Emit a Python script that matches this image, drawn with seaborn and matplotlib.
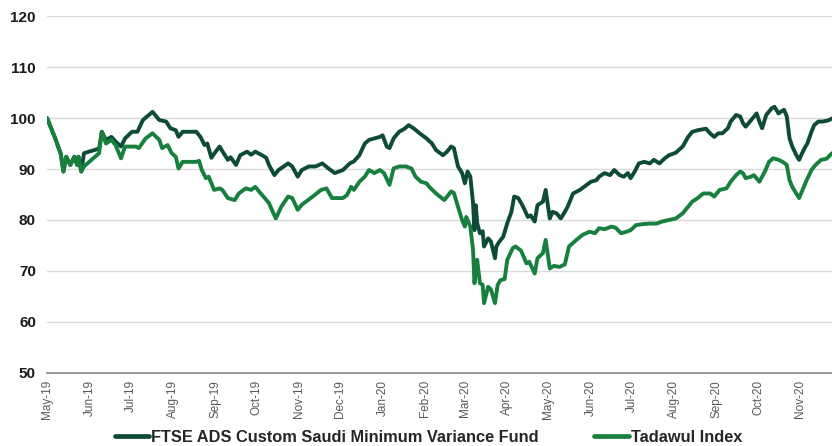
import matplotlib
matplotlib.use("Agg")
import matplotlib.pyplot as plt
import matplotlib.dates as mdates
import pandas as pd
import seaborn as sns

fund_dates = [
    "2019-05-01", "2019-05-07", "2019-05-11", "2019-05-13", "2019-05-15", "2019-05-18", "2019-05-21",
    "2019-05-23", "2019-05-24", "2019-05-26", "2019-05-28", "2019-06-08", "2019-06-10", "2019-06-13",
    "2019-06-17", "2019-06-20", "2019-06-24", "2019-06-27", "2019-07-02", "2019-07-06", "2019-07-10",
    "2019-07-17", "2019-07-22", "2019-07-27", "2019-07-30", "2019-08-03", "2019-08-05", "2019-08-08",
    "2019-08-18", "2019-08-21", "2019-08-24", "2019-08-26", "2019-08-29", "2019-08-31", "2019-09-04",
    "2019-09-06", "2019-09-10", "2019-09-12", "2019-09-16", "2019-09-19", "2019-09-24", "2019-09-27",
    "2019-09-30", "2019-10-05", "2019-10-08", "2019-10-10", "2019-10-14", "2019-10-17", "2019-10-24",
    "2019-10-27", "2019-10-31", "2019-11-03", "2019-11-08", "2019-11-13", "2019-11-18", "2019-11-22",
    "2019-11-27", "2019-12-03", "2019-12-08", "2019-12-11", "2019-12-15", "2019-12-19", "2019-12-22",
    "2019-12-26", "2019-12-30", "2020-01-01", "2020-01-04", "2020-01-06", "2020-01-09", "2020-01-13",
    "2020-01-17", "2020-01-20", "2020-01-24", "2020-01-28", "2020-02-02", "2020-02-06", "2020-02-09",
    "2020-02-14", "2020-02-17", "2020-02-20", "2020-02-22", "2020-02-25", "2020-02-28", "2020-03-01",
    "2020-03-03", "2020-03-05", "2020-03-07", "2020-03-08", "2020-03-09", "2020-03-10", "2020-03-12",
    "2020-03-14", "2020-03-15", "2020-03-18", "2020-03-20", "2020-03-23", "2020-03-24", "2020-03-26",
    "2020-03-29", "2020-04-01", "2020-04-04", "2020-04-06", "2020-04-09", "2020-04-12", "2020-04-16",
    "2020-04-18", "2020-04-21", "2020-04-23", "2020-04-27", "2020-04-29", "2020-05-02", "2020-05-04",
    "2020-05-07", "2020-05-10", "2020-05-13", "2020-05-15", "2020-05-19", "2020-05-24", "2020-05-29",
    "2020-06-01", "2020-06-05", "2020-06-07", "2020-06-11", "2020-06-15", "2020-06-18", "2020-06-22",
    "2020-06-25", "2020-06-28", "2020-06-30", "2020-07-03", "2020-07-06", "2020-07-10", "2020-07-14",
    "2020-07-17", "2020-07-21", "2020-07-25", "2020-07-28", "2020-08-02", "2020-08-07", "2020-08-11",
    "2020-08-14", "2020-08-18", "2020-08-24", "2020-08-27", "2020-08-30", "2020-09-02", "2020-09-05",
    "2020-09-09", "2020-09-11", "2020-09-15", "2020-09-18", "2020-09-20", "2020-09-22", "2020-09-26",
    "2020-09-30", "2020-10-02", "2020-10-04", "2020-10-07", "2020-10-11", "2020-10-13", "2020-10-16",
    "2020-10-18", "2020-10-20", "2020-10-22", "2020-10-24", "2020-10-26", "2020-10-29", "2020-10-31",
    "2020-11-02", "2020-11-04", "2020-11-06", "2020-11-09", "2020-11-11", "2020-11-14", "2020-11-17",
    "2020-11-21", "2020-11-24",
]
fund_values = [
    100.0, 96.0, 93.0, 89.5, 92.4, 90.8, 92.4,
    90.8, 92.4, 89.5, 93.1, 94.0, 97.3, 95.7,
    96.3, 95.4, 94.4, 96.0, 97.3, 97.3, 99.6,
    101.2, 99.6, 99.3, 98.0, 97.6, 96.3, 97.3,
    97.3, 96.3, 94.7, 95.0, 92.2, 93.0, 94.4,
    93.5, 91.8, 92.3, 90.8, 92.7, 93.4, 92.8,
    93.4, 92.7, 92.2, 90.8, 88.8, 89.8, 91.1,
    90.5, 88.5, 89.8, 90.5, 90.5, 91.1, 90.2,
    89.2, 89.8, 91.1, 91.5, 92.7, 95.0, 95.7,
    96.0, 96.3, 96.6, 94.4, 94.1, 96.0, 97.3,
    97.9, 98.6, 97.9, 97.0, 96.0, 95.0, 93.7,
    92.7, 93.4, 94.4, 94.1, 90.5, 89.2, 87.2,
    89.5, 88.5, 83.3, 78.0, 82.9, 79.4, 77.4,
    77.8, 74.8, 76.4, 75.8, 72.5, 74.8, 75.7,
    76.7, 79.4, 81.6, 84.6, 84.3, 82.9, 80.6,
    80.9, 79.7, 82.9, 83.6, 85.9, 80.3, 81.6,
    81.3, 80.3, 81.6, 82.6, 85.2, 85.9, 86.9,
    87.5, 87.8, 88.5, 89.2, 88.8, 89.8, 88.8,
    88.5, 89.2, 88.2, 89.5, 91.1, 91.4, 91.1,
    91.8, 91.1, 92.1, 92.7, 93.2, 94.4, 96.3,
    97.3, 97.6, 97.9, 97.0, 96.3, 97.0, 97.0,
    98.0, 99.3, 100.6, 100.3, 99.0, 98.3, 99.6,
    100.9, 99.3, 98.0, 100.6, 101.9, 102.2, 100.9,
    101.3, 101.6, 100.3, 96.0, 94.4, 92.7, 91.8,
    93.0, 94.1, 95.0, 97.3, 98.6, 99.3, 99.3,
    99.5, 99.9,
]

tadawul_dates = [
    "2019-05-01", "2019-05-07", "2019-05-11", "2019-05-13", "2019-05-15", "2019-05-18", "2019-05-21",
    "2019-05-23", "2019-05-24", "2019-05-26", "2019-05-28", "2019-06-08", "2019-06-10", "2019-06-13",
    "2019-06-17", "2019-06-20", "2019-06-24", "2019-06-27", "2019-07-05", "2019-07-07", "2019-07-12",
    "2019-07-17", "2019-07-22", "2019-07-24", "2019-07-28", "2019-07-31", "2019-08-03", "2019-08-05",
    "2019-08-08", "2019-08-18", "2019-08-20", "2019-08-22", "2019-08-25", "2019-08-27", "2019-08-31",
    "2019-09-04", "2019-09-06", "2019-09-10", "2019-09-15", "2019-09-18", "2019-09-23", "2019-09-27",
    "2019-09-30", "2019-10-04", "2019-10-07", "2019-10-10", "2019-10-15", "2019-10-19", "2019-10-24",
    "2019-10-27", "2019-10-31", "2019-11-03", "2019-11-11", "2019-11-17", "2019-11-21", "2019-11-25",
    "2019-12-03", "2019-12-06", "2019-12-09", "2019-12-11", "2019-12-15", "2019-12-19", "2019-12-22",
    "2019-12-26", "2019-12-30", "2020-01-02", "2020-01-06", "2020-01-09", "2020-01-13", "2020-01-18",
    "2020-01-22", "2020-01-25", "2020-01-29", "2020-02-02", "2020-02-04", "2020-02-09", "2020-02-15",
    "2020-02-20", "2020-02-22", "2020-02-25", "2020-02-28", "2020-03-01", "2020-03-02", "2020-03-05",
    "2020-03-07", "2020-03-08", "2020-03-10", "2020-03-12", "2020-03-14", "2020-03-15", "2020-03-18",
    "2020-03-20", "2020-03-23", "2020-03-25", "2020-03-27", "2020-03-30", "2020-04-01", "2020-04-05",
    "2020-04-07", "2020-04-11", "2020-04-15", "2020-04-17", "2020-04-21", "2020-04-23", "2020-04-27",
    "2020-04-29", "2020-05-02", "2020-05-05", "2020-05-09", "2020-05-13", "2020-05-16", "2020-05-21",
    "2020-05-26", "2020-05-31", "2020-06-04", "2020-06-07", "2020-06-11", "2020-06-16", "2020-06-19",
    "2020-06-23", "2020-06-27", "2020-06-30", "2020-07-04", "2020-07-09", "2020-07-14", "2020-07-19",
    "2020-07-23", "2020-07-28", "2020-08-02", "2020-08-07", "2020-08-11", "2020-08-14", "2020-08-18",
    "2020-08-22", "2020-08-27", "2020-08-30", "2020-09-03", "2020-09-08", "2020-09-11", "2020-09-15",
    "2020-09-18", "2020-09-20", "2020-09-22", "2020-09-26", "2020-09-28", "2020-10-02", "2020-10-06",
    "2020-10-09", "2020-10-12", "2020-10-16", "2020-10-19", "2020-10-22", "2020-10-24", "2020-10-26",
    "2020-10-28", "2020-10-31", "2020-11-03", "2020-11-05", "2020-11-09", "2020-11-12", "2020-11-16",
    "2020-11-20", "2020-11-24",
]
tadawul_values = [
    100.0, 96.0, 93.0, 89.5, 92.4, 90.8, 92.4,
    90.8, 92.4, 89.5, 90.5, 93.1, 97.3, 95.0,
    95.7, 94.7, 92.1, 94.4, 94.4, 94.1, 96.0,
    97.0, 95.7, 94.1, 94.7, 93.1, 92.4, 90.1,
    91.4, 91.4, 91.6, 89.8, 88.2, 88.5, 85.9,
    86.2, 85.9, 84.3, 83.9, 85.2, 86.2, 85.9,
    86.5, 85.2, 84.3, 83.3, 80.3, 82.6, 84.6,
    84.3, 82.0, 83.0, 84.6, 85.9, 86.2, 84.3,
    84.3, 84.9, 86.5, 85.9, 87.5, 88.5, 89.8,
    89.2, 89.8, 89.2, 86.9, 90.1, 90.5, 90.5,
    90.1, 88.5, 87.5, 87.2, 86.5, 85.2, 83.9,
    85.6, 85.3, 82.6, 80.0, 78.7, 80.6, 78.7,
    74.1, 67.6, 72.2, 67.6, 67.3, 63.7, 66.9,
    66.4, 63.7, 67.3, 68.2, 68.4, 72.2, 74.5,
    74.8, 74.0, 71.5, 71.8, 69.5, 72.5, 73.5,
    76.1, 70.5, 71.0, 70.8, 71.3, 74.8, 76.0,
    77.1, 77.7, 77.4, 78.4, 78.2, 78.7, 78.5,
    77.4, 77.7, 78.0, 79.0, 79.2, 79.3, 79.3,
    79.7, 80.0, 80.3, 81.3, 82.6, 83.6, 84.3,
    85.2, 85.2, 84.6, 85.9, 86.2, 87.5, 88.8,
    89.5, 89.2, 88.2, 88.5, 88.8, 87.5, 89.5,
    91.4, 92.1, 91.8, 91.4, 90.8, 87.8, 86.5,
    85.6, 84.3, 86.2, 87.5, 89.8, 90.8, 91.8,
    92.0, 93.1,
]

series_names = ["FTSE ADS Custom Saudi Minimum Variance Fund", "Tadawul Index"]
series_colors = ["#0d4a38", "#17803d"]
y_ticks = [50, 60, 70, 80, 90, 100, 110, 120]

df = pd.concat([
    pd.DataFrame({"date": pd.to_datetime(fund_dates), "value": fund_values, "series": series_names[0]}),
    pd.DataFrame({"date": pd.to_datetime(tadawul_dates), "value": tadawul_values, "series": series_names[1]}),
], ignore_index=True)

sns.set_style("white")
plt.rcParams["font.family"] = ["Liberation Sans", "DejaVu Sans"]

fig = plt.figure(figsize=(8.32, 4.46), dpi=100)
ax = fig.add_axes([0.0565, 0.1637, 0.9435, 0.8004])

sns.lineplot(data=df, x="date", y="value", hue="series", hue_order=series_names,
             palette=series_colors, linewidth=2.8, ax=ax, legend=False)

ax.set_ylim(50, 120)
ax.set_yticks(y_ticks)
ax.set_xlim(pd.Timestamp("2019-05-01"), pd.Timestamp("2020-11-24"))
ax.xaxis.set_major_locator(mdates.MonthLocator())
ax.xaxis.set_major_formatter(mdates.DateFormatter("%b-%y"))
ax.grid(axis="y", color="#d9d9d9", linewidth=1.0)
ax.grid(axis="x", visible=False)
ax.set_axisbelow(True)
for s in ["top", "right", "left"]:
    ax.spines[s].set_visible(False)
ax.spines["bottom"].set_color("#8c8c8c")
ax.spines["bottom"].set_linewidth(1.3)
ax.spines["bottom"].set_zorder(0.5)
ax.tick_params(axis="y", length=0, pad=8, labelsize=11, labelcolor="#1a1a1a")
ax.tick_params(axis="x", length=0, pad=5, labelsize=8.5, labelcolor="#595959", labelrotation=90)
for lab in ax.get_yticklabels():
    lab.set_fontweight("bold")
ax.set_xlabel("")
ax.set_ylabel("")

handles = [plt.Line2D([], [], color=c, linewidth=3.4) for c in series_colors]
fig.legend(handles, series_names, loc="lower center", bbox_to_anchor=(0.515, -0.03), ncol=2,
           frameon=False, handlelength=2.1, handletextpad=0.1, columnspacing=3.4,
           prop={"weight": "bold", "size": 11.8})

fig.savefig("out.png", dpi=100)
